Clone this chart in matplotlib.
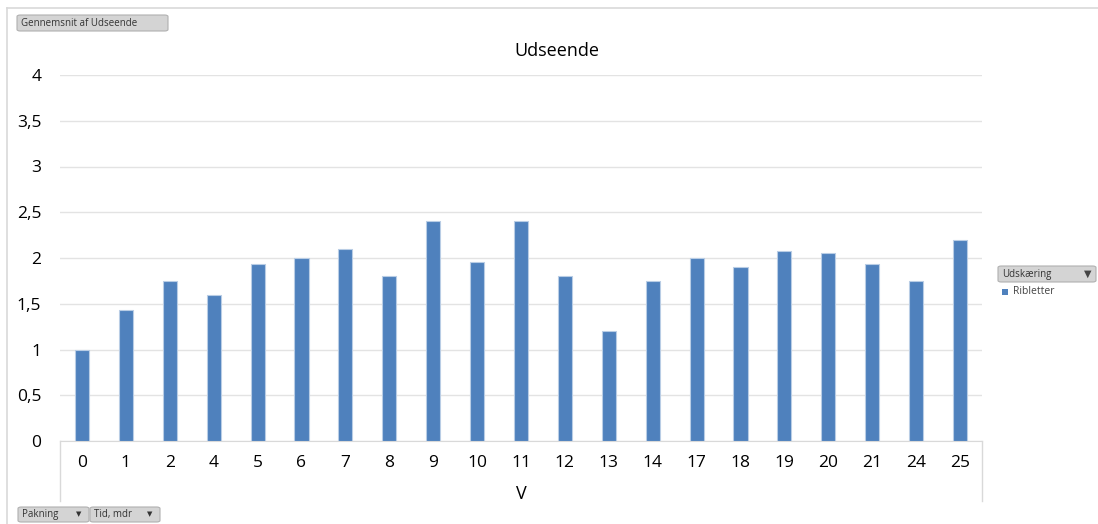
import matplotlib.pyplot as plt
from matplotlib.patches import FancyBboxPatch, Rectangle
from matplotlib.lines import Line2D

# Data
categories = ['0', '1', '2', '4', '5', '6', '7', '8', '9', '10', '11', '12',
              '13', '14', '17', '18', '19', '20', '21', '24', '25']
udseende = [1.0, 1.43, 1.75, 1.6, 1.93, 2.0, 2.1, 1.8, 2.4, 1.96, 2.4, 1.8,
            1.2, 1.75, 2.0, 1.9, 2.08, 2.05, 1.93, 1.75, 2.2]
y_ticks = [0, 0.5, 1, 1.5, 2, 2.5, 3, 3.5, 4]
y_labels = ['0', '0,5', '1', '1,5', '2', '2,5', '3', '3,5', '4']

plt.rcParams['font.family'] = ['Open Sans', 'DejaVu Sans']

W, H = 1098, 524
fig = plt.figure(figsize=(W / 100, H / 100), dpi=100)

def fx(px):
    return px / W

def fy(py):
    return 1 - py / H

# chart border (top and left only visible)
fig.add_artist(Line2D([fx(7), 1], [fy(8), fy(8)], color='#d9d9d9', lw=1.2,
                      transform=fig.transFigure))
fig.add_artist(Line2D([fx(7), fx(7)], [fy(8), 0], color='#d9d9d9', lw=1.2,
                      transform=fig.transFigure))

ax = fig.add_axes([fx(60), fy(441), fx(922), (441 - 75) / H])
x = range(len(categories))
ax.bar(x, udseende, width=0.32, color='#4f81bd', edgecolor='#b9cde5', linewidth=0.8, zorder=3)
ax.set_xlim(-0.5, len(categories) - 0.5)
ax.set_ylim(0, 4)
ax.set_yticks(y_ticks)
ax.set_yticklabels(y_labels, fontsize=12.5)
ax.tick_params(axis='y', length=0, pad=13.5)
ax.set_xticks(list(x))
ax.set_xticklabels(categories, fontsize=12.5)
ax.tick_params(axis='x', length=0, pad=10)
ax.grid(axis='y', color='#e3e3e3', lw=1, zorder=0)
for s in ['top', 'right', 'left']:
    ax.spines[s].set_visible(False)
ax.spines['bottom'].set_color('#d9d9d9')
ax.set_title('Udseende', fontsize=13, pad=14, x=0.539)
ax.set_xlabel('V', fontsize=13, labelpad=10)

# category axis box lines
for px in (60, 982):
    fig.add_artist(Line2D([fx(px), fx(px)], [fy(441), fy(501)], color='#d9d9d9', lw=1,
                          transform=fig.transFigure))

def button(x0, y0, w, h, label, arrow=False, filt=False):
    fig.add_artist(FancyBboxPatch((fx(x0), fy(y0 + h)), fx(w), h / H,
                                  boxstyle='round,pad=0,rounding_size=0.003',
                                  transform=fig.transFigure, facecolor='#d4d4d4',
                                  edgecolor='#b0b0b0', lw=0.8))
    fig.text(fx(x0 + 4), fy(y0 + h / 2), label, fontsize=7, va='center', ha='left',
             color='#333333')
    if arrow:
        fig.text(fx(x0 + w - 10), fy(y0 + h / 2), '▼', fontsize=5, va='center',
                 ha='center', color='#333333')
    if filt:
        fig.text(fx(x0 + w - 8), fy(y0 + h / 2), '▼', fontsize=7, va='center',
                 ha='center', color='#444444')

button(17, 15, 151, 16, 'Gennemsnit af Udseende')
button(18, 507, 71, 15, 'Pakning', arrow=True)
button(90, 507, 70, 15, 'Tid, mdr', arrow=True)
button(998, 266, 98, 16, 'Udskæring', filt=True)

# legend entry
fig.add_artist(Rectangle((fx(1002), fy(295)), fx(6), 6 / H, transform=fig.transFigure,
                         facecolor='#4f81bd', edgecolor='none'))
fig.text(fx(1013), fy(292), 'Ribletter', fontsize=7.5, va='center', ha='left', color='#444444')

fig.savefig('out.png', dpi=100)
